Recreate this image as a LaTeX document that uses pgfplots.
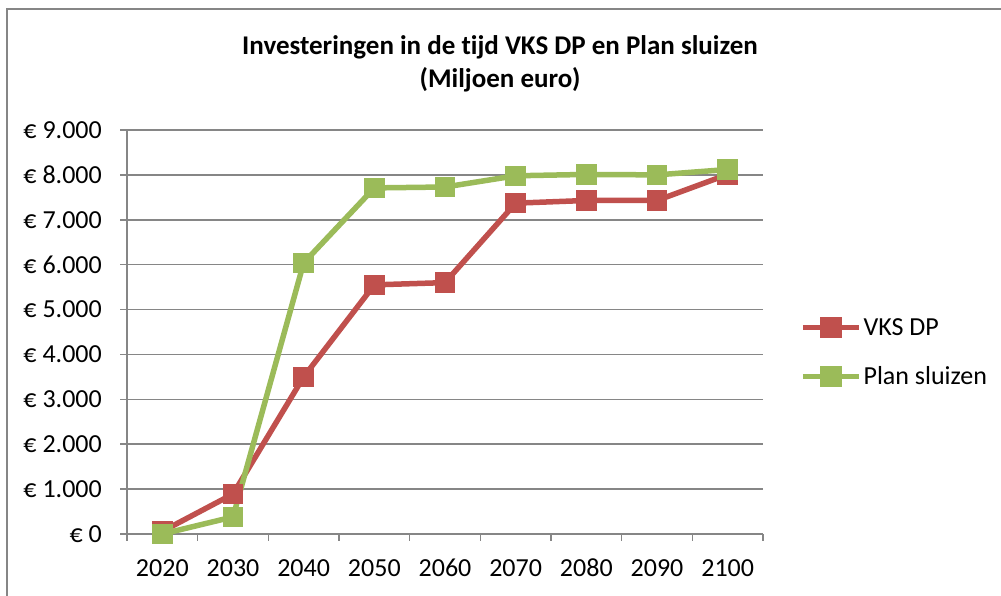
\documentclass[border=0pt]{standalone}
\usepackage{pgfplots}
\pgfplotsset{compat=1.18}
\usepackage{fontspec}
\setmainfont{Carlito}[Ligatures=NoCommon]
\definecolor{vks}{HTML}{C0504D}
\definecolor{plan}{HTML}{9BBB59}
\definecolor{gridgray}{HTML}{868686}
\begin{document}
\begin{tikzpicture}[x=1pt,y=1pt]
\useasboundingbox (0,0) rectangle (1001,596);
\draw[gridgray,line width=1.5pt] (7,0) -- (7,587) -- (1001,587);
\node[anchor=base,font=\fontsize{27}{33}\selectfont\bfseries] at (500,541) {Investeringen in de tijd VKS DP en Plan sluizen};
\node[anchor=base,font=\fontsize{27}{33}\selectfont\bfseries] at (500,508) {(Miljoen euro)};
\begin{axis}[
  at={(127pt,62pt)}, anchor=south west,
  scale only axis, width=636pt, height=404pt,
  xmin=-0.5, xmax=8.5, ymin=0, ymax=9000,
  xtick={-0.5,0.5,...,8.5},
  xticklabels={2020,2030,2040,2050,2060,2070,2080,2090,2100},
  x tick label as interval,
  ytick={0,1000,...,9000},
  axis lines*=left,
  axis line style={gridgray,line width=1.5pt},
  ymajorgrids, major grid style={gridgray,line width=1.5pt},
  tick style={gridgray,line width=1.5pt},
  tick align=outside, major tick length=7pt,
  ticklabel style={font=\fontsize{26}{31}\selectfont, text=black},
  /pgf/number format/assume math mode=true,
  yticklabel={€ \pgfmathprintnumber[1000 sep={.}]{\tick}},
  yticklabel style={inner sep=0pt, xshift=-18pt},
  xticklabel style={anchor=base, inner sep=0pt, yshift=-36pt},
  legend style={at={(rel axis cs:1.058,0.45)}, anchor=west, draw=none, fill=none,
    font=\fontsize{26}{31}\selectfont, row sep=26pt, legend cell align=left,
    inner sep=0pt, nodes={inner sep=2pt}},
  legend image code/.code={
    \draw[#1,line width=5.5pt] (0pt,0pt) -- (56pt,0pt);
    \draw[#1,mark=square*,mark size=8pt,mark options={solid}] plot coordinates {(28pt,0pt)};
  },
  clip=false,
]
\addplot[vks, line width=5.5pt, mark=square*, mark size=7.5pt] coordinates {
 (0,60) (1,890) (2,3500) (3,5550) (4,5600) (5,7370) (6,7430) (7,7430) (8,8010)};
\addlegendentry{VKS DP}
\addplot[plan, line width=5.5pt, mark=square*, mark size=7.5pt] coordinates {
 (0,0) (1,380) (2,6040) (3,7710) (4,7730) (5,7980) (6,8010) (7,8000) (8,8120)};
\addlegendentry{Plan sluizen}
\end{axis}
\end{tikzpicture}
\end{document}
